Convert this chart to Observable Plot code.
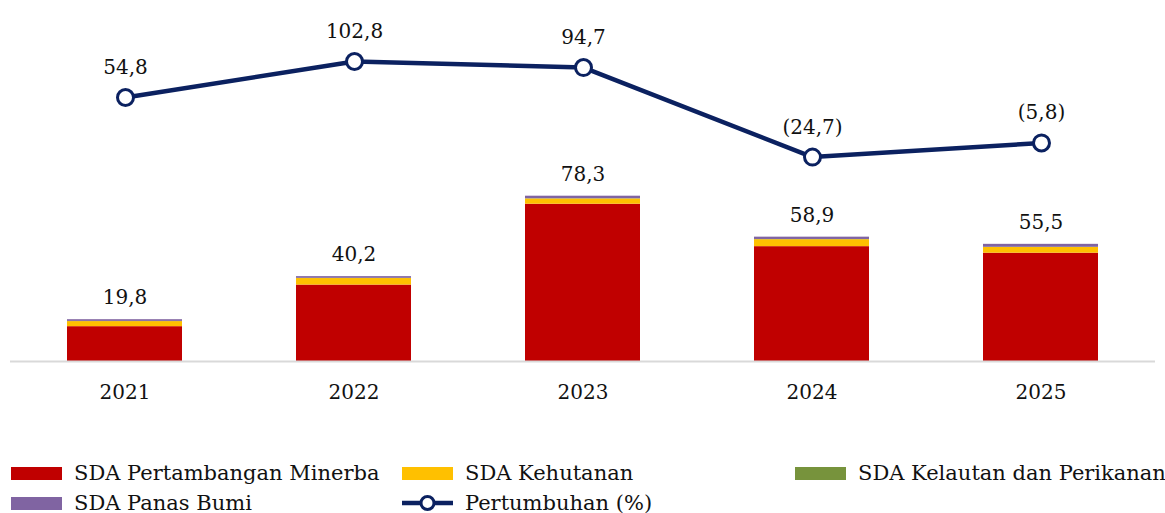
<!DOCTYPE html>
<html>
<head>
<meta charset="utf-8">
<script src="https://cdn.jsdelivr.net/npm/d3@7"></script>
<script src="https://cdn.jsdelivr.net/npm/@observablehq/plot@0.6"></script>
<style>
  body { margin: 0; background: #fff; font-family: "DejaVu Serif", serif; }
  #wrap { position: relative; width: 1165px; height: 440px; }
  #wrap svg { position: absolute; left: 0; top: 0; }
  #legend { position: relative; width: 1165px; font-size: 21px; color: #111; }
  .item { position: absolute; display: flex; align-items: center; white-space: nowrap; }
  .sw { width: 51px; height: 13px; margin-right: 12px; }
</style>
</head>
<body>
<div id="wrap"></div>
<div id="legend"></div>
<script>
const years = ["2021", "2022", "2023", "2024", "2025"];
const minerba = [16.5, 36.2, 74.5, 54.4, 51.3];
const kehutanan = [2.4, 3.1, 2.5, 3.3, 2.7];
const kelautan = [0.1, 0.1, 0.1, 0.1, 0.1];
const panasBumi = [0.8, 0.8, 1.2, 1.1, 1.4];
const totals = [19.8, 40.2, 78.3, 58.9, 55.5];
const growth = [54.8, 102.8, 94.7, -24.7, -5.8];

const seriesNames = ["SDA Pertambangan Minerba", "SDA Kehutanan", "SDA Kelautan dan Perikanan", "SDA Panas Bumi"];
const seriesValues = [minerba, kehutanan, kelautan, panasBumi];
const colors = ["#C00000", "#FFC000", "#77933C", "#8064A2"];
const lineColor = "#0B2160";

const stacked = [];
seriesNames.forEach((s, i) => years.forEach((y, j) => stacked.push({year: y, series: s, value: seriesValues[i][j]})));
const totalRows = years.map((y, j) => ({year: y, total: totals[j]}));
const growthRows = years.map((y, j) => ({year: y, g: growth[j]}));

const fmt = v => {
  const s = Math.abs(v).toFixed(1).replace(".", ",");
  return v < 0 ? `(${s})` : s;
};

const W = 1165, H = 440;
const font = "DejaVu Serif, serif";
const xOpts = {domain: years, paddingInner: 0.5, paddingOuter: 0.25, axis: null};

const bars = Plot.plot({
  width: W, height: H,
  marginLeft: 10, marginRight: 10, marginTop: 0, marginBottom: 79,
  style: {fontFamily: font, fontSize: "20px", background: "transparent"},
  x: xOpts,
  y: {domain: [0, 171], axis: null},
  color: {domain: seriesNames, range: colors},
  marks: [
    Plot.barY(stacked, {x: "year", y: "value", fill: "series", order: seriesNames}),
    Plot.ruleY([0], {stroke: "#D9D9D9", strokeWidth: 2}),
    Plot.text(totalRows, {x: "year", y: "total", text: d => fmt(d.total), dy: -22, fontSize: 20, fill: "#111"}),
    Plot.axisX({tickSize: 0, tickPadding: 23, fontSize: 20, color: "#111", label: null})
  ]
});

const line = Plot.plot({
  width: W, height: H,
  marginLeft: 10, marginRight: 10, marginTop: 0, marginBottom: 79,
  style: {fontFamily: font, fontSize: "20px", background: "transparent"},
  x: xOpts,
  y: {domain: [-297.2, 184.1], axis: null},
  marks: [
    Plot.line(growthRows, {x: "year", y: "g", stroke: lineColor, strokeWidth: 4.5}),
    Plot.dot(growthRows, {x: "year", y: "g", r: 8, fill: "#fff", stroke: lineColor, strokeWidth: 3}),
    Plot.text(growthRows, {x: "year", y: "g", text: d => fmt(d.g), dy: -30, fontSize: 20, fill: "#111"})
  ]
});

const wrap = document.getElementById("wrap");
wrap.appendChild(bars);
wrap.appendChild(line);

const legend = document.getElementById("legend");
legend.style.height = "73px";
const items = [
  {name: seriesNames[0], type: "rect", color: colors[0], x: 11, y: 33},
  {name: seriesNames[1], type: "rect", color: colors[1], x: 402, y: 33},
  {name: seriesNames[2], type: "rect", color: colors[2], x: 795, y: 33},
  {name: seriesNames[3], type: "rect", color: colors[3], x: 11, y: 63},
  {name: "Pertumbuhan (%)", type: "line", color: lineColor, x: 402, y: 63}
];
items.forEach(it => {
  const d = document.createElement("div");
  d.className = "item";
  d.style.left = it.x + "px";
  d.style.top = (it.y - 14) + "px";
  d.style.height = "28px";
  if (it.type === "rect") {
    const s = document.createElement("span");
    s.className = "sw";
    s.style.background = it.color;
    d.appendChild(s);
  } else {
    const ns = "http://www.w3.org/2000/svg";
    const svg = document.createElementNS(ns, "svg");
    svg.setAttribute("width", 51); svg.setAttribute("height", 20);
    svg.style.marginRight = "12px";
    svg.innerHTML = `<line x1="0" y1="10" x2="51" y2="10" stroke="${it.color}" stroke-width="4.5"/><circle cx="25.5" cy="10" r="6.5" fill="#fff" stroke="${it.color}" stroke-width="3"/>`;
    d.appendChild(svg);
  }
  const t = document.createElement("span");
  t.textContent = it.name;
  d.appendChild(t);
  legend.appendChild(d);
});
</script>
</body>
</html>
